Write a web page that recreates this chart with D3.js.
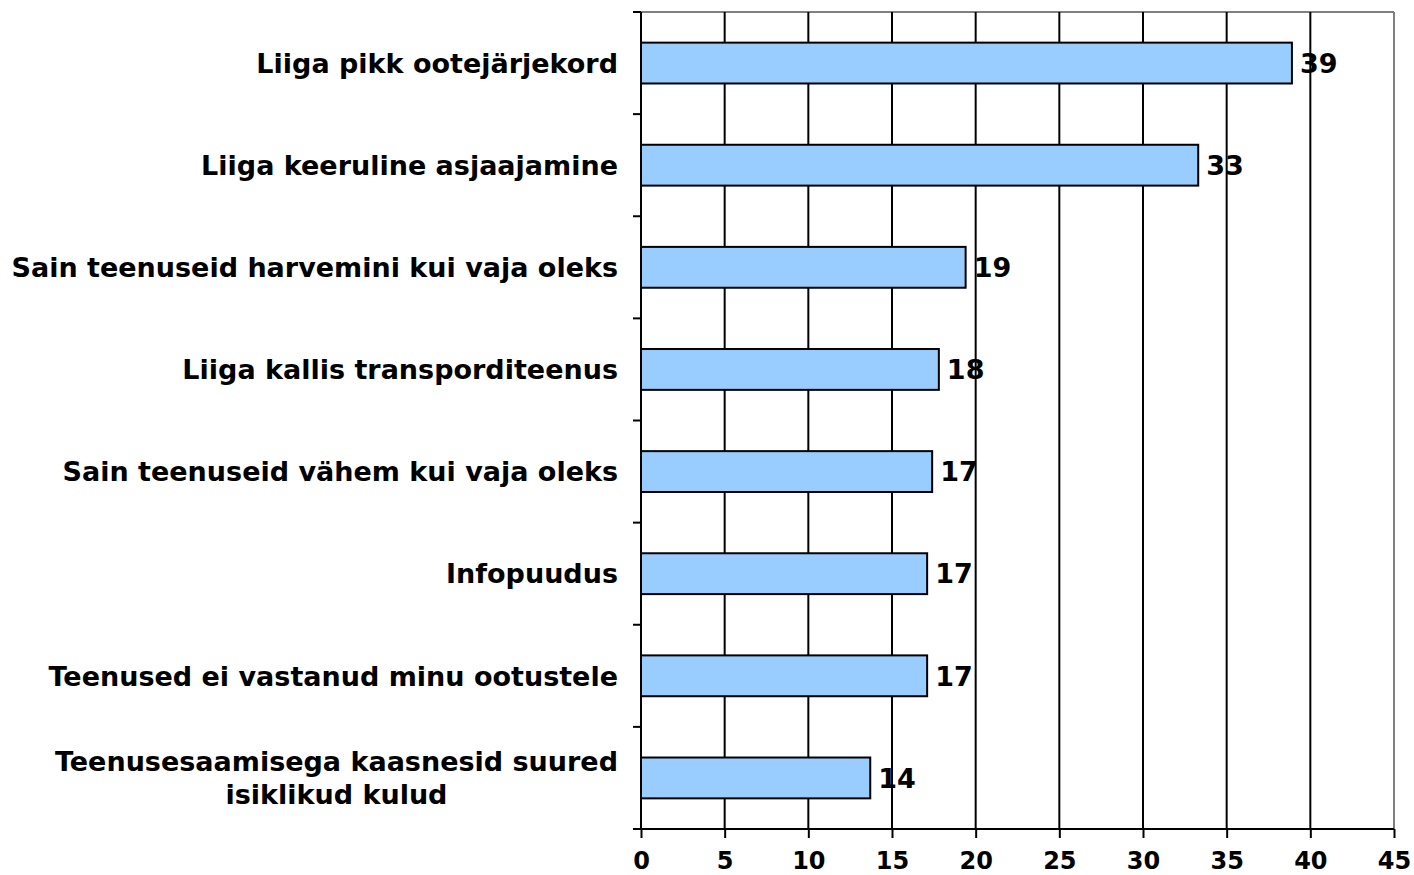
<!DOCTYPE html>
<html>
<head>
<meta charset="utf-8">
<script src="https://cdnjs.cloudflare.com/ajax/libs/d3/7.8.5/d3.min.js"></script>
<style>
body { margin: 0; background: #fff; }
text { font-family: "DejaVu Sans", Verdana, sans-serif; font-weight: bold; fill: #000; }
.cat { font-size: 27px; }
.value { font-size: 27px; }
</style>
</head>
<body>
<svg width="1414" height="875"></svg>
<script>
var categories = [
  "Liiga pikk ootejärjekord",
  "Liiga keeruline asjaajamine",
  "Sain teenuseid harvemini kui vaja oleks",
  "Liiga kallis transporditeenus",
  "Sain teenuseid vähem kui vaja oleks",
  "Infopuudus",
  "Teenused ei vastanud minu ootustele",
  "Teenusesaamisega kaasnesid suured|isiklikud kulud"
];
var values = [38.9, 33.3, 19.4, 17.8, 17.4, 17.1, 17.1, 13.7];
var xTicks = [0, 5, 10, 15, 20, 25, 30, 35, 40, 45];

var pArea = [641, 12, 1394, 829]; // left, top, right, bottom
var svg = d3.select("svg");
var g = svg.append("g");

var x = d3.scaleLinear().domain([0, 45]).range([pArea[0], pArea[2]]);
var y = d3.scaleBand().domain(d3.range(categories.length)).range([pArea[1], pArea[3]]);
var barH = y.bandwidth() * 0.4;

// plot frame (top and right in gray)
g.append("line")
  .attr("x1", pArea[0]).attr("x2", pArea[2])
  .attr("y1", pArea[1]).attr("y2", pArea[1])
  .attr("stroke", "#808080").attr("stroke-width", 2);
g.append("line")
  .attr("x1", pArea[2]).attr("x2", pArea[2])
  .attr("y1", pArea[1]).attr("y2", pArea[3])
  .attr("stroke", "#808080").attr("stroke-width", 2);

// vertical gridlines
g.selectAll(".grid")
  .data(xTicks.slice(1, -1))
  .enter().append("line")
  .attr("class", "grid")
  .attr("x1", function(d) { return x(d); })
  .attr("x2", function(d) { return x(d); })
  .attr("y1", pArea[1]).attr("y2", pArea[3])
  .attr("stroke", "#000").attr("stroke-width", 2);

// bars
g.selectAll(".bar")
  .data(values)
  .enter().append("rect")
  .attr("class", "bar")
  .attr("x", x(0))
  .attr("y", function(d, i) { return y(i) + (y.bandwidth() - barH) / 2; })
  .attr("width", function(d) { return x(d) - x(0); })
  .attr("height", barH)
  .attr("fill", "#99ccff")
  .attr("stroke", "#000")
  .attr("stroke-width", 2);

// value labels
var fmt = d3.format(".0f");
g.selectAll(".value")
  .data(values)
  .enter().append("text")
  .attr("class", "value")
  .attr("x", function(d) { return x(d) + 8; })
  .attr("y", function(d, i) { return y(i) + y.bandwidth() / 2; })
  .attr("dy", "0.36em")
  .text(function(d) { return fmt(d); });

// x axis
var xAxis = g.append("g")
  .attr("transform", "translate(0," + pArea[3] + ")")
  .call(d3.axisBottom(x).tickValues(xTicks).tickSize(9).tickSizeOuter(0).tickPadding(14));
xAxis.select(".domain").remove();
xAxis.selectAll(".tick line").attr("stroke", "#000").attr("stroke-width", 2);
xAxis.selectAll(".tick text")
  .attr("font-family", null).attr("font-size", null)
  .style("font-size", "24px");
xAxis.append("line")
  .attr("x1", pArea[0] - 8).attr("x2", pArea[2])
  .attr("y1", 0).attr("y2", 0)
  .attr("stroke", "#000").attr("stroke-width", 2);

// y axis
var yAxis = g.append("g");
yAxis.append("line")
  .attr("x1", pArea[0]).attr("x2", pArea[0])
  .attr("y1", pArea[1]).attr("y2", pArea[3])
  .attr("stroke", "#000").attr("stroke-width", 2);
yAxis.selectAll(".ytick")
  .data(d3.range(categories.length))
  .enter().append("line")
  .attr("class", "ytick")
  .attr("x1", pArea[0] - 8).attr("x2", pArea[0])
  .attr("y1", function(i) { return y(i); })
  .attr("y2", function(i) { return y(i); })
  .attr("stroke", "#000").attr("stroke-width", 2);

// category labels
var cats = g.selectAll(".cat")
  .data(categories)
  .enter().append("text")
  .attr("class", "cat")
  .attr("text-anchor", "end")
  .attr("y", function(d, i) { return y(i) + y.bandwidth() / 2; });
cats.each(function(d) {
  var lines = d.split("|");
  var t = d3.select(this);
  if (lines.length === 1) {
    t.append("tspan").attr("x", pArea[0] - 23).attr("dy", "0.36em").text(lines[0]);
  } else {
    // second line centered under the first
    t.attr("text-anchor", "middle");
    var tmp = t.append("tspan").attr("x", 0).text(lines[0]);
    var w = tmp.node().getComputedTextLength();
    tmp.remove();
    var cx = pArea[0] - 23 - w / 2;
    lines.forEach(function(l, k) {
      t.append("tspan").attr("x", cx)
        .attr("dy", k === 0 ? (0.36 - 0.61) + "em" : "1.22em")
        .text(l);
    });
  }
});
</script>
</body>
</html>
